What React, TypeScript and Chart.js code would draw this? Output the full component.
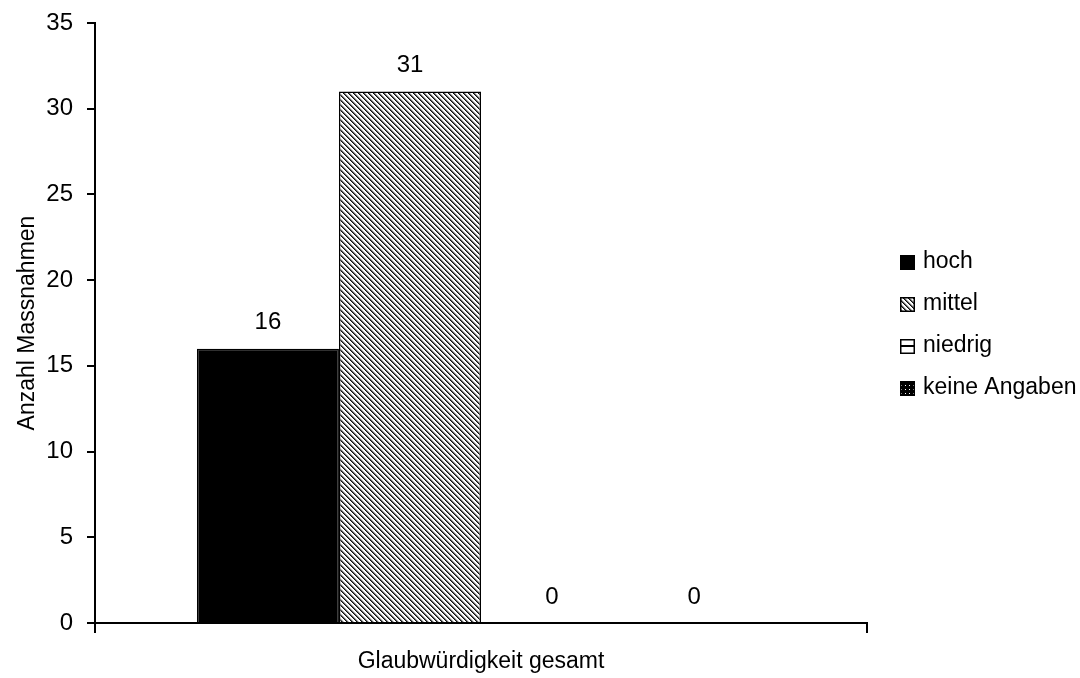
import React, { useEffect, useRef } from 'react';
import { Chart, registerables } from 'chart.js';

Chart.register(...registerables);

const categories = ['Glaubwürdigkeit gesamt'];
const seriesNames = ['hoch', 'mittel', 'niedrig', 'keine Angaben'];
const hochValues = [16];
const mittelValues = [31];
const niedrigValues = [0];
const keineAngabenValues = [0];
const yMin = 0;
const yMax = 35;
const yStep = 5;
const yTitle = 'Anzahl Massnahmen';

const FONT = '"Liberation Sans", Arial, sans-serif';
const TEXT_SIZE = 23;
const NUM_SIZE = 24;

function makeTile(n: number, fn: (x: number, y: number) => number[]): CanvasPattern | string {
  const c = document.createElement('canvas');
  c.width = n;
  c.height = n;
  const ctx = c.getContext('2d');
  if (!ctx) return '#888';
  const img = ctx.createImageData(n, n);
  for (let y = 0; y < n; y++) {
    for (let x = 0; x < n; x++) {
      const [r, g, b] = fn(x, y);
      const i = (y * n + x) * 4;
      img.data[i] = r;
      img.data[i + 1] = g;
      img.data[i + 2] = b;
      img.data[i + 3] = 255;
    }
  }
  ctx.putImageData(img, 0, 0);
  const p = ctx.createPattern(c, 'repeat');
  return p || '#888';
}

function diagPattern() {
  return makeTile(5, (x, y) => {
    const d = (((x - y) % 5) + 5) % 5;
    if (d === 0) return [15, 15, 15];
    if (d === 1) return [95, 95, 95];
    if (d === 2) return [200, 200, 200];
    return [255, 255, 255];
  });
}

function horizPattern() {
  return makeTile(6, (x, y) => (y === 0 ? [0, 0, 0] : [255, 255, 255]));
}

function dotPattern() {
  return makeTile(4, (x, y) => (x === 1 && y === 1 ? [255, 255, 255] : [0, 0, 0]));
}

export default function App() {
  const ref = useRef<HTMLCanvasElement | null>(null);

  useEffect(() => {
    const canvas = ref.current;
    if (!canvas) return;
    const fills = ['#000000', diagPattern(), horizPattern(), dotPattern()];
    const values = [hochValues, mittelValues, niedrigValues, keineAngabenValues];

    const dataLabels = {
      id: 'dataLabels',
      afterDatasetsDraw(chart: any) {
        const ctx = chart.ctx;
        ctx.save();
        ctx.font = `${NUM_SIZE}px ${FONT}`;
        ctx.fillStyle = '#000';
        ctx.textAlign = 'center';
        ctx.textBaseline = 'middle';
        chart.data.datasets.forEach((ds: any, i: number) => {
          const meta = chart.getDatasetMeta(i);
          meta.data.forEach((el: any, j: number) => {
            ctx.fillText(String(ds.data[j]), el.x, el.y - 26);
          });
        });
        ctx.restore();
      },
    };

    const sideLegend = {
      id: 'sideLegend',
      afterDraw(chart: any) {
        const ctx = chart.ctx;
        const area = chart.chartArea;
        const cy = (area.top + area.bottom) / 2 + 2;
        const x0 = area.right + 33;
        const box = 15;
        const gap = 42;
        ctx.save();
        ctx.font = `${TEXT_SIZE}px ${FONT}`;
        ctx.textBaseline = 'middle';
        ctx.textAlign = 'left';
        chart.data.datasets.forEach((ds: any, i: number) => {
          const y = cy + (i - (chart.data.datasets.length - 1) / 2) * gap;
          const by = Math.round(y - box / 2);
          ctx.fillStyle = '#fff';
          ctx.fillRect(x0, by, box, box);
          if (i === 2) {
            ctx.fillStyle = '#000';
            ctx.fillRect(x0, by + Math.floor(box / 2) - 1, box, 2);
          } else {
            ctx.fillStyle = ds.backgroundColor;
            ctx.fillRect(x0, by, box, box);
          }
          ctx.strokeStyle = '#000';
          ctx.lineWidth = 1.5;
          ctx.strokeRect(x0 + 0.75, by + 0.75, box - 1.5, box - 1.5);
          ctx.fillStyle = '#000';
          ctx.fillText(ds.label, x0 + 23, y);
        });
        ctx.restore();
      },
    };

    const chart = new Chart(canvas, {
      type: 'bar',
      data: {
        labels: categories,
        datasets: seriesNames.map((name, i) => ({
          label: name,
          data: values[i],
          backgroundColor: fills[i] as any,
          borderColor: '#000',
          borderWidth: 1.5,
          barPercentage: 1.0,
          categoryPercentage: 0.736,
        })),
      },
      options: {
        responsive: false,
        animation: false,
        devicePixelRatio: 1,
        layout: { padding: { left: 0, top: 23, right: 213, bottom: 0 } },
        plugins: {
          legend: { display: false },
          tooltip: { enabled: false },
        },
        scales: {
          x: {
            grid: {
              display: true,
              drawOnChartArea: false,
              drawTicks: true,
              tickLength: 10,
              color: '#000',
              lineWidth: 2,
              offset: true,
            },
            border: { display: true, color: '#000', width: 2 },
            ticks: {
              color: '#000',
              font: { family: FONT, size: TEXT_SIZE },
              padding: 15,
            },
            afterFit(scale: any) {
              scale.height = 55;
              scale.paddingLeft = 0;
              scale.paddingRight = 0;
            },
          },
          y: {
            min: yMin,
            max: yMax,
            grid: {
              display: true,
              drawOnChartArea: false,
              drawTicks: true,
              tickLength: 8,
              color: '#000',
              lineWidth: 2,
            },
            border: { display: true, color: '#000', width: 2 },
            ticks: {
              stepSize: yStep,
              color: '#000',
              font: { family: FONT, size: NUM_SIZE },
              padding: 14,
            },
            title: {
              display: true,
              text: yTitle,
              color: '#000',
              font: { family: FONT, size: TEXT_SIZE },
              padding: { top: 14, bottom: 0 },
            },
            afterFit(scale: any) {
              scale.width = 95;
              scale.paddingTop = 0;
              scale.paddingBottom = 0;
            },
          },
        },
      },
      plugins: [dataLabels, sideLegend],
    });

    return () => chart.destroy();
  }, []);

  return (
    <div style={{ position: 'fixed', left: 0, top: 0, width: 1080, height: 678, background: '#fff' }}>
      <canvas ref={ref} width={1080} height={678} style={{ display: 'block', width: 1080, height: 678 }} />
    </div>
  );
}
